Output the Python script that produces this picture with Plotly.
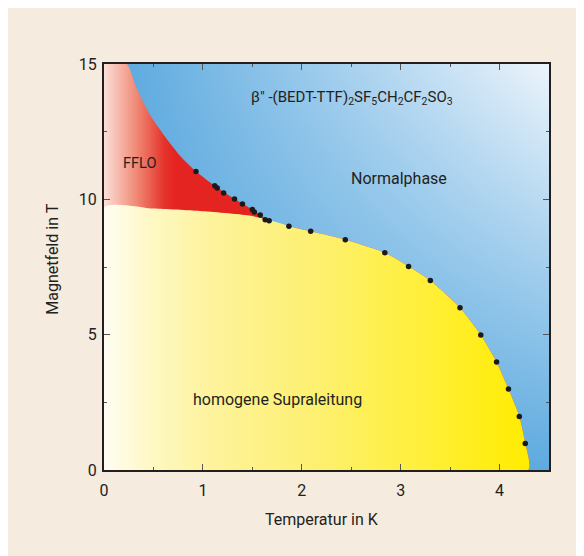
import plotly.graph_objects as go

# ---- data ----
# measured transition points (Temperatur in K, Magnetfeld in T)
dots_T = [0.93, 1.12, 1.145, 1.21, 1.32, 1.40, 1.50, 1.52, 1.58, 1.63, 1.67, 1.87,
          2.09, 2.44, 2.84, 3.08, 3.30, 3.60, 3.81, 3.97, 4.09, 4.20, 4.26]
dots_H = [11.03, 10.50, 10.42, 10.23, 10.01, 9.83, 9.62, 9.53, 9.42, 9.25, 9.21, 9.01,
          8.82, 8.51, 8.03, 7.52, 7.00, 5.99, 4.99, 3.99, 2.99, 1.98, 0.98]

# upper critical field line (boundary to Normalphase)
hc2_T = [0.23, 0.33, 0.46, 0.62, 0.78, 0.93, 1.12, 1.32, 1.50, 1.67, 1.87, 2.09, 2.44,
         2.84, 3.08, 3.30, 3.60, 3.81, 3.97, 4.09, 4.20, 4.26, 4.29]
hc2_H = [15.0, 14.1, 13.15, 12.3, 11.56, 11.03, 10.50, 10.01, 9.62, 9.21, 9.01, 8.82, 8.51,
         8.03, 7.52, 7.00, 5.99, 4.99, 3.99, 2.99, 1.98, 0.98, 0.0]

# FFLO / homogeneous superconductor boundary
fflo_T = [0.0, 0.5, 0.97, 1.47, 1.80]
fflo_H = [9.70, 9.66, 9.57, 9.40, 9.10]

x_ticks = [0, 1, 2, 3, 4]
y_ticks = [0, 5, 10, 15]

FONT = "Roboto, 'Liberation Sans Narrow', sans-serif"
TXT = "#231f20"
BG = "#f5ebdf"

fig = go.Figure()

# Normalphase background gradient (corner colour weights)
fig.add_trace(go.Heatmap(
    x=[0, 4.5], y=[0, 15], z=[[0.0, 0.10], [0.06, 1.0]],
    zsmooth="best", showscale=False, hoverinfo="skip",
    colorscale=[[0, "#4ea2dc"], [0.5, "#9ccbec"], [1, "#ecf4fb"]],
))

# FFLO region: everything left of Hc2 line (yellow is drawn on top)
red_T = [0.0] + hc2_T + [0.0]
red_H = [15.0] + hc2_H + [0.0]
fig.add_trace(go.Scatter(
    x=red_T, y=red_H, mode="lines", line=dict(width=0, shape="spline", smoothing=0.6),
    fill="toself",
    fillgradient=dict(type="horizontal", start=0, stop=0.72,
                      colorscale=[[0, "#fbe0d8"], [0.45, "#f08a76"], [0.85, "#e5332a"], [1, "#e42421"]]),
    hoverinfo="skip", showlegend=False,
))

# homogeneous superconducting region
k = next(i for i, t in enumerate(hc2_T) if t > fflo_T[-1])
yel_T = [0.0] + fflo_T + hc2_T[k:] + [0.0]
yel_H = [0.0] + fflo_H + hc2_H[k:] + [0.0]
fig.add_trace(go.Scatter(
    x=yel_T, y=yel_H, mode="lines", line=dict(width=0, shape="spline", smoothing=0.6),
    fill="toself",
    fillgradient=dict(type="horizontal", start=0, stop=4.3,
                      colorscale=[[0, "#fffdf3"], [0.1, "#fef8c8"], [0.25, "#fdf39c"],
                                  [0.5, "#fdf070"], [0.75, "#ffef3a"], [1, "#ffec00"]]),
    hoverinfo="skip", showlegend=False,
))

# measured points
fig.add_trace(go.Scatter(
    x=dots_T, y=dots_H, mode="markers",
    marker=dict(color="#1a1a1a", size=5.5), showlegend=False, hoverinfo="skip",
))

ann_font = dict(family=FONT, size=16, color=TXT)
annotations = [
    dict(x=0.36, y=11.34, text="FFLO", font=dict(family=FONT, size=14.5, color=TXT)),
    dict(x=2.98, y=10.77, text="Normalphase", font=ann_font),
    dict(x=1.75, y=2.62, text="homogene Supraleitung", font=ann_font),
    dict(x=1.47, y=13.75, xanchor="left",
         text="β″ -(BEDT-TTF)<sub>2</sub>SF<sub>5</sub>CH<sub>2</sub>CF<sub>2</sub>SO<sub>3</sub>",
         font=dict(family=FONT, size=15, color=TXT)),
    dict(x=0.49, y=-0.123, xref="paper", yref="paper", text="Temperatur in K", font=ann_font),
    dict(x=-0.115, y=0.52, xref="paper", yref="paper", text="Magnetfeld in T",
         textangle=-90, font=ann_font),
]
for a in annotations:
    a.setdefault("showarrow", False)
    a.setdefault("xanchor", "center")
    a.setdefault("yanchor", "middle")

axis_common = dict(
    showline=True, linewidth=2, linecolor=TXT, mirror="ticks",
    ticks="inside", ticklen=6, tickwidth=1.2, tickcolor="#555555",
    showgrid=False, zeroline=False,
    tickfont=dict(family=FONT, size=16, color=TXT),
)

fig.update_layout(
    width=584, height=556,
    margin=dict(l=96, r=43, t=56, b=94),
    paper_bgcolor=BG, plot_bgcolor=BG,
    annotations=annotations,
    xaxis=dict(range=[0, 4.5], tickvals=x_ticks, ticktext=[str(v) for v in x_ticks],
               ticklabelstandoff=5,
               minor=dict(dtick=0.5, ticks="inside", ticklen=3, tickcolor="#555555", showgrid=False),
               **axis_common),
    yaxis=dict(range=[0, 15], tickvals=y_ticks, ticktext=[str(v) for v in y_ticks],
               ticklabelstandoff=2,
               minor=dict(dtick=2.5, ticks="inside", ticklen=3, tickcolor="#555555", showgrid=False),
               **axis_common),
)

fig.write_html("out.html")
